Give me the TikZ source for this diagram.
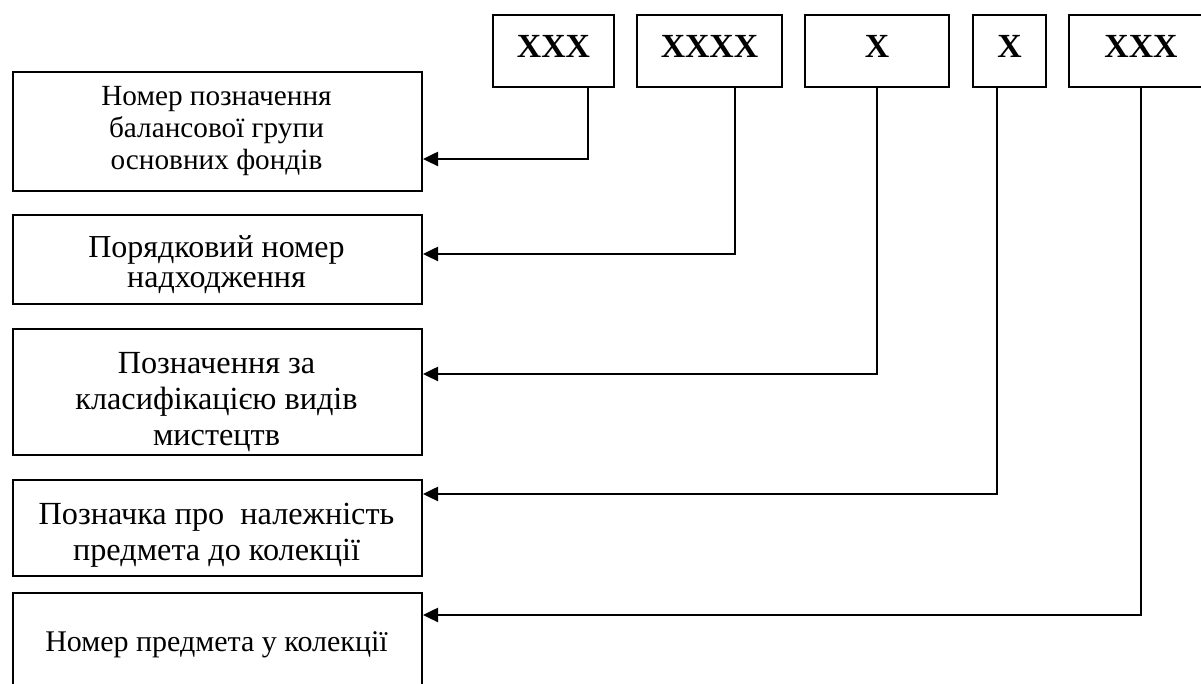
\documentclass[tikz,border=0pt]{standalone}
\usepackage{fontspec}
\setmainfont{Liberation Serif}
\usetikzlibrary{arrows.meta}

\tikzset{
  codebox/.style={draw, line width=0.8pt, inner sep=0pt, anchor=north west, minimum height=28.8pt,
    font=\fontsize{13.5}{14}\selectfont\bfseries, text height=9pt, text depth=4pt},
  descbox/.style={draw, line width=0.8pt, inner sep=0pt, anchor=north west, minimum width=163.6pt},
  desctext/.style={align=center, inner sep=0pt},
  link/.style={line width=1pt, -{Triangle[length=6pt,width=5.6pt]}},
}

\begin{document}
\begin{tikzpicture}[x=0.4pt, y=-0.4pt]
\useasboundingbox (0,0) rectangle (1201,684);
\clip (0,0) rectangle (1201,684);
% code groups
\node[codebox, minimum width=48.4pt] (t1) at (492,14) {XXX};
\node[codebox, minimum width=58pt] (t2) at (636,14) {XXXX};
\node[codebox, minimum width=57.6pt] (t3) at (804,14) {X};
\node[codebox, minimum width=29.2pt] (t4) at (972,14) {X};
\node[codebox, minimum width=57.6pt] (t5) at (1068,14) {XXX};
% description boxes
\node[descbox, minimum height=47.6pt] (d1) at (12,71) {};
\node[descbox, minimum height=35.6pt] (d2) at (12,214) {};
\node[descbox, minimum height=50.4pt] (d3) at (12,328) {};
\node[descbox, minimum height=38.4pt] (d4) at (12,479) {};
\node[descbox, minimum height=51.2pt] (d5) at (12,592) {};
\node[desctext, font=\fontsize{11.7}{12.8}\selectfont] (n1) at (216.5,131) {Номер позначення\\балансової групи\\основних фондів};
\node[desctext, font=\fontsize{12.8}{12}\selectfont] (n2) at (216.5,265) {Порядковий номер\\надходження};
\node[desctext, font=\fontsize{12.9}{14.4}\selectfont] (n3) at (216.5,402) {Позначення за\\класифікацією видів\\мистецтв};
\node[desctext, font=\fontsize{12.9}{14.4}\selectfont] (n4) at (216.5,535) {Позначка про\ \ належність\\предмета до колекції};
\node[desctext, font=\fontsize{12}{12.4}\selectfont] (n5) at (216.5,645) {Номер предмета у колекції};
% bends of the links
\coordinate (k1) at (588,159);
\coordinate (k2) at (735,254);
\coordinate (k3) at (877,374);
\coordinate (k4) at (997,494);
\coordinate (k5) at (1141,615);
\draw[link] (t1.south -| k1) |- (d1.east |- k1);
\draw[link] (t2.south -| k2) |- (d2.east |- k2);
\draw[link] (t3.south -| k3) |- (d3.east |- k3);
\draw[link] (t4.south -| k4) |- (d4.east |- k4);
\draw[link] (t5.south -| k5) |- (d5.east |- k5);
\end{tikzpicture}
\end{document}
